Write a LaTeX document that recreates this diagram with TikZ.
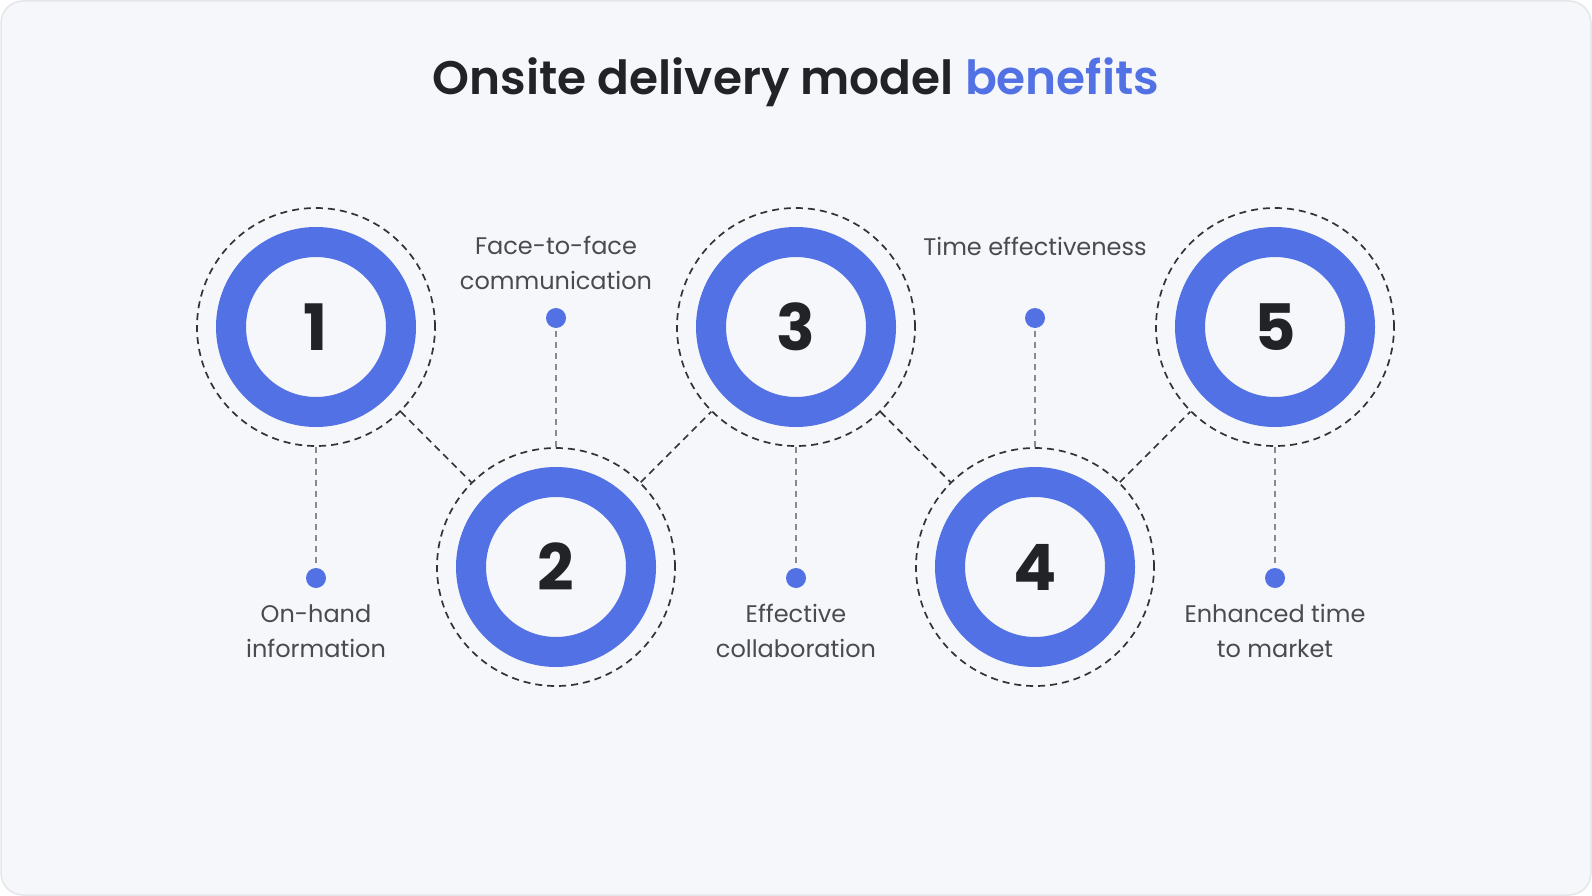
\documentclass[tikz,border=0pt]{standalone}
\usepackage{fontspec}
\setmainfont{Poppins}
\newfontfamily\semib{Poppins SemiBold}
\definecolor{bg}{HTML}{F5F7FA}
\definecolor{frame}{HTML}{E4E6EA}
\definecolor{brand}{HTML}{5271E4}
\definecolor{ink}{HTML}{222326}
\definecolor{txt}{HTML}{4A4B4F}
\definecolor{dashdark}{HTML}{333333}
\definecolor{dashgray}{HTML}{8A8A8A}
\tikzset{
  ring/.style={circle, minimum size=170pt, inner sep=0pt, draw=brand, line width=30pt, fill=bg,
    font=\fontsize{64}{64}\selectfont\bfseries, text=ink},
  halo/.style={circle, minimum size=238pt, inner sep=0pt, draw=dashdark, line width=1.7pt, dash pattern=on 7pt off 5pt},
  dotnode/.style={circle, minimum size=20pt, inner sep=0pt, fill=brand},
  lbl/.style={align=center, font=\fontsize{24}{35}\selectfont, text=txt, inner sep=0pt},
  link/.style={draw=dashdark, line width=1.7pt, dash pattern=on 7pt off 5pt},
  stem/.style={draw=dashgray, line width=1.5pt, dash pattern=on 6pt off 5pt},
}
\begin{document}
\begin{tikzpicture}[x=1pt,y=-1pt]
\useasboundingbox (0,0) rectangle (1592,896);
\fill[white] (0,0) rectangle (1592,896);
\draw[fill=bg, draw=frame, line width=1.5pt, rounded corners=22pt] (1,1) rectangle (1591,895);
\node[font=\fontsize{47}{47}\selectfont\semib, text=ink, anchor=base, inner sep=0pt] (title) at (796,95) {Onsite delivery model \textcolor{brand}{benefits}};
% halos
\node[halo] (d1) at (316,327) {};
\node[halo] (d2) at (556,567) {};
\node[halo] (d3) at (796,327) {};
\node[halo] (d4) at (1035,567) {};
\node[halo] (d5) at (1275,327) {};
% rings
\node[ring] (c1) at (316,327) {1};
\node[ring] (c2) at (556,567) {2};
\node[ring] (c3) at (796,327) {3};
\node[ring] (c4) at (1035,567) {4};
\node[ring] (c5) at (1275,327) {5};
% links
\draw[link] (d1) -- (d2);
\draw[link] (d2) -- (d3);
\draw[link] (d3) -- (d4);
\draw[link] (d4) -- (d5);
% dots
\node[dotnode] (p1) at (316,578) {};
\node[dotnode] (p2) at (556,318) {};
\node[dotnode] (p3) at (796,578) {};
\node[dotnode] (p4) at (1035,318) {};
\node[dotnode] (p5) at (1275,578) {};
\draw[stem] (d1) -- (p1);
\draw[stem] (d2) -- (p2);
\draw[stem] (d3) -- (p3);
\draw[stem] (d4) -- (p4);
\draw[stem] (d5) -- (p5);
% labels
\node[lbl] (l1) at (316,631) {On-hand\\information};
\node[lbl] (l2) at (556,263) {Face-to-face\\communication};
\node[lbl] (l3) at (796,631) {Effective\\collaboration};
\node[lbl] (l4) at (1035,246) {Time effectiveness};
\node[lbl] (l5) at (1275,631) {Enhanced time\\to market};
\end{tikzpicture}
\end{document}
